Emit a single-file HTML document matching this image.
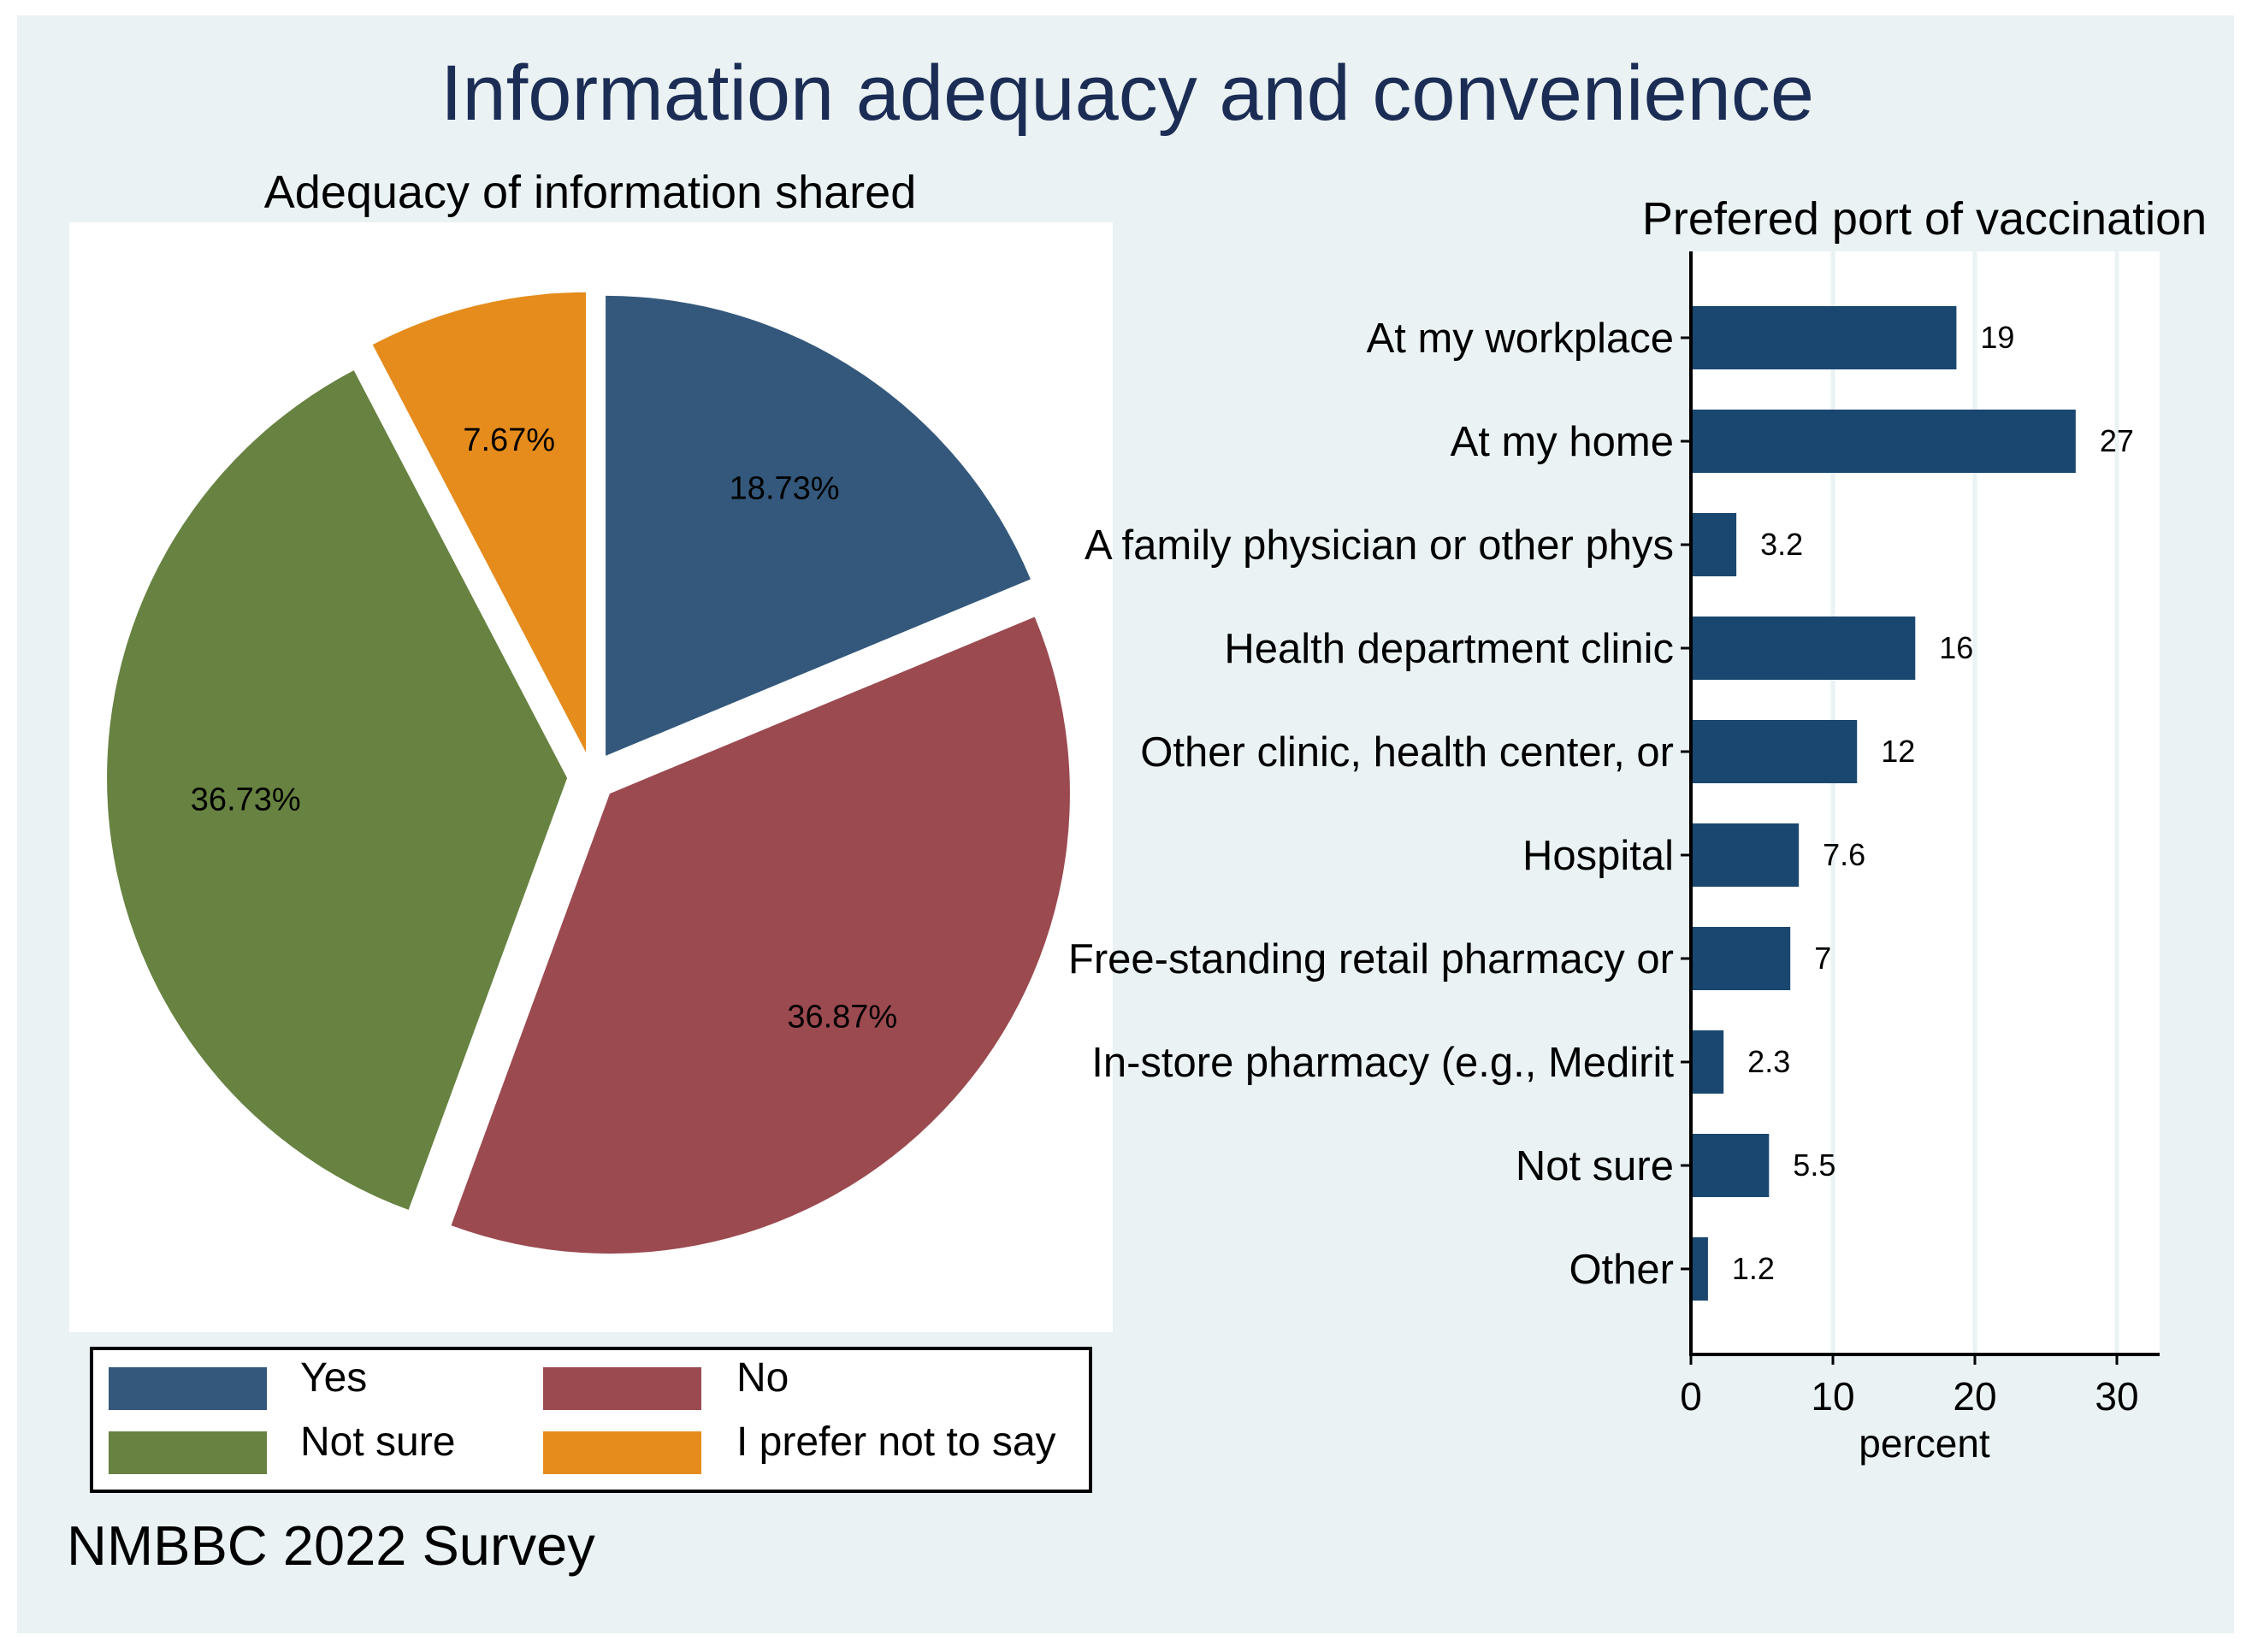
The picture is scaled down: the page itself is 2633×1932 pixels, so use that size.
<!DOCTYPE html>
<html><head><meta charset="utf-8"><style>
html,body{margin:0;padding:0;background:#fff;}
svg{display:block;font-family:"Liberation Sans",Arial,sans-serif;}
</style></head><body>
<svg id="chart" width="2633" height="1932" viewBox="0 0 2633 1932" xmlns="http://www.w3.org/2000/svg">
<rect x="0" y="0" width="2633" height="1932" fill="#ffffff"/>
<rect x="20" y="18" width="2592" height="1892" fill="#eaf2f3"/>
<text x="1318" y="140" font-size="92" fill="#1c2d55" text-anchor="middle">Information adequacy and convenience</text>
<text x="690" y="243" font-size="54" fill="#000" text-anchor="middle">Adequacy of information shared</text>
<rect x="81" y="260" width="1220" height="1298" fill="#ffffff"/>
<g id="pie"></g>
<g id="legend">
<rect x="107" y="1577" width="1168" height="167" fill="#fff" stroke="#000" stroke-width="4"/>
</g>
<text x="78" y="1830" font-size="65" fill="#000">NMBBC 2022 Survey</text>
<text x="2250" y="274" font-size="54" fill="#000" text-anchor="middle">Prefered port of vaccination</text>
<rect x="1977" y="294" width="548" height="1290" fill="#ffffff"/>
<g id="bars"></g>
<text x="2250" y="1704" font-size="46" fill="#000" text-anchor="middle">percent</text>
</svg>
<script>
const pieLabels = ["Yes", "No", "Not sure", "I prefer not to say"];
const pieValues = [18.73, 36.87, 36.73, 7.67];
const pieColors = ["#33587b", "#9b4a50", "#678241", "#e58c1d"];

const barCategories = ["At my workplace","At my home","A family physician or other phys","Health department clinic","Other clinic, health center, or","Hospital","Free-standing retail pharmacy or","In-store pharmacy (e.g., Medirit","Not sure","Other"];
const barValues = [18.7, 27.1, 3.2, 15.8, 11.7, 7.6, 7.0, 2.3, 5.5, 1.2];
const barValueLabels = ["19","27","3.2","16","12","7.6","7","2.3","5.5","1.2"];
const xTicks = [0, 10, 20, 30];

const NS = "http://www.w3.org/2000/svg";
function mk(tag, attrs, parent){const e=document.createElementNS(NS,tag);for(const k in attrs)e.setAttribute(k,attrs[k]);parent.appendChild(e);return e;}

// Pie
const pie = document.getElementById('pie');
const cx=692, cy=908, R=538, off=29;
const total = pieValues.reduce((a,b)=>a+b,0);
let acc=0;
pieValues.forEach((v,i)=>{
  const a0=acc/total*2*Math.PI, a1=(acc+v)/total*2*Math.PI, am=(a0+a1)/2;
  acc+=v;
  const ox=cx+off*Math.sin(am), oy=cy-off*Math.cos(am);
  const p0=[ox+R*Math.sin(a0), oy-R*Math.cos(a0)], p1=[ox+R*Math.sin(a1), oy-R*Math.cos(a1)];
  const large=(a1-a0)>Math.PI?1:0;
  const path=mk('path',{d:`M${ox},${oy} L${p0[0]},${p0[1]} A${R},${R} 0 ${large} 1 ${p1[0]},${p1[1]} Z`,fill:pieColors[i]},pie);
  
  
  const lr=R*0.7;
  const t=mk('text',{x:ox+lr*Math.sin(am),y:oy-lr*Math.cos(am)+13,'font-size':38,'text-anchor':'middle',fill:'#000'},pie);
  t.textContent=v.toFixed(2)+'%';
  
  
});

// Legend
const lg=document.getElementById('legend');
const lx=[127,635], ly=[1599,1674], tx=[351,861];
pieLabels.forEach((lab,i)=>{
  const c=i%2, r=Math.floor(i/2);
  const s=mk('rect',{x:lx[c],y:ly[r],width:185,height:50,fill:pieColors[i]},lg);
  
  
  const t=mk('text',{x:tx[c],y:ly[r]+28,'font-size':48,fill:'#000'},lg);
  t.textContent=lab;
  
  
});

// Bars
const bg=document.getElementById('bars');
const x0=1977, pxPerUnit=(2475-1977)/30, yTop=294, yAxis=1584;
const xs=v=>x0+v*pxPerUnit;
const band=121, firstCenter=395, barH=74;
const yc=i=>firstCenter+i*band;
xTicks.forEach(t=>{
  if(t>0){const g=mk('line',{x1:xs(t),x2:xs(t),y1:yTop,y2:yAxis,stroke:'#eaf2f3','stroke-width':5},bg);
  
  }
  const tk=mk('line',{x1:xs(t),x2:xs(t),y1:yAxis,y2:yAxis+12,stroke:'#000','stroke-width':3},bg);
  
  
  const tl=mk('text',{x:xs(t),y:1649,'font-size':46,'text-anchor':'middle',fill:'#000'},bg);
  tl.textContent=t;
  
  
});
barCategories.forEach((c,i)=>{
  const r=mk('rect',{x:x0,y:yc(i)-barH/2,width:xs(barValues[i])-x0,height:barH,fill:'#1a476f'},bg);
  
  
  const v=mk('text',{x:xs(barValues[i])+28,y:yc(i)+12,'font-size':36,fill:'#000'},bg);
  v.textContent=barValueLabels[i];
  
  
  const l=mk('text',{x:1957,y:yc(i)+17,'font-size':49,'text-anchor':'end',fill:'#000'},bg);
  l.textContent=c;
  
  
  const tk=mk('line',{x1:x0-12,x2:x0,y1:yc(i),y2:yc(i),stroke:'#000','stroke-width':3},bg);
  
  
});
const ya=mk('line',{x1:x0,x2:x0,y1:yTop,y2:yAxis+2,stroke:'#000','stroke-width':4},bg);


const xa=mk('line',{x1:x0-2,x2:2525,y1:yAxis,y2:yAxis,stroke:'#000','stroke-width':4},bg);


</script>
</body></html>
